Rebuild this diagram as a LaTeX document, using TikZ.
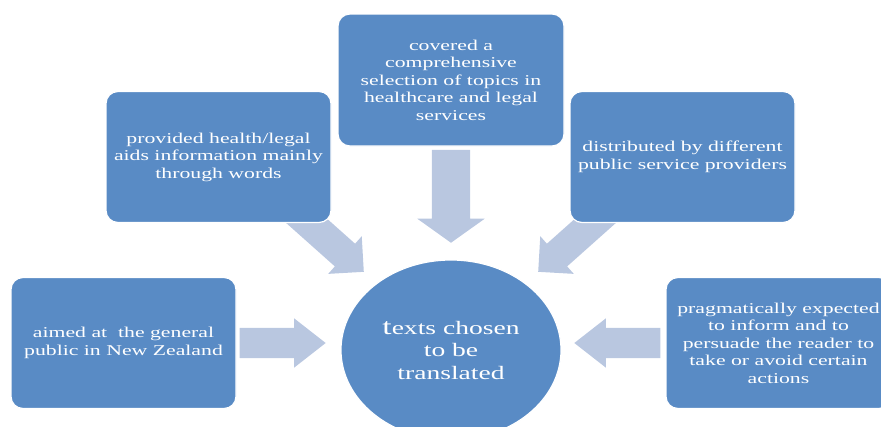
\documentclass[tikz,border=0pt]{standalone}
\usepackage{fontspec}
\setmainfont{Liberation Serif}[FakeStretch=1.45]
\usetikzlibrary{shapes.arrows,shapes.geometric}
\definecolor{boxblue}{RGB}{89,139,197}
\definecolor{arrowblue}{RGB}{185,199,224}

\begin{document}
\begin{tikzpicture}[x=1pt,y=-1pt,
box/.style={draw=white,line width=1.2pt,fill=boxblue,rounded corners=12pt,
    minimum width=225pt,minimum height=131pt,inner sep=0pt,
    text=white,align=center,font=\fontsize{15}{17.5}\selectfont},
flow/.style={single arrow,fill=arrowblue,inner xsep=0pt,inner ysep=15pt,
    single arrow head extend=10pt,single arrow tip angle=90,anchor=tip}]
\useasboundingbox (0,0) rectangle (881,426);
\clip (0,0) rectangle (881,426);

% arrows first, the boxes cover their tails
\node (adown) [flow,rotate=-90,minimum height=93pt,inner ysep=19pt,
    single arrow head extend=14.5pt,single arrow tip angle=109] at (451,243) {};
\node (aleft) [flow,rotate=-41.7,minimum height=105pt] at (364,272) {};
\node (aright) [flow,rotate=221.7,minimum height=105pt] at (538,272) {};
\node (ain) [flow,minimum height=86pt,single arrow head extend=9.5pt,
    single arrow tip angle=76] at (326,343) {};
\node (aout) [flow,rotate=180,minimum height=86pt,single arrow head extend=9.5pt,
    single arrow tip angle=76] at (574,343) {};

\node (topics) [box,minimum width=226pt,minimum height=132pt] at (451,80)
    {covered a\\comprehensive\\selection of topics in\\healthcare and legal\\services};
\node (aids) [box] at (218.5,157)
    {provided health/legal\\aids information mainly\\through words};
\node (providers) [box] at (682.5,157)
    {distributed by different\\public service providers};
\node (public) [box] at (123.5,343)
    {aimed at \ the general\\public in New Zealand};
\node (pragma) [box] at (778.5,343)
    {pragmatically expected\\to inform and to\\persuade the reader to\\take or avoid certain\\actions};
\node (texts) [ellipse,draw=white,line width=1.2pt,fill=boxblue,
    minimum width=220pt,minimum height=180pt,inner sep=0pt,
    text=white,align=center,font=\fontsize{19}{22.5}\selectfont] at (451,350)
    {{\fontsize{23}{22.5}\selectfont t}exts chosen\\to be\\translated};
\end{tikzpicture}
\end{document}
